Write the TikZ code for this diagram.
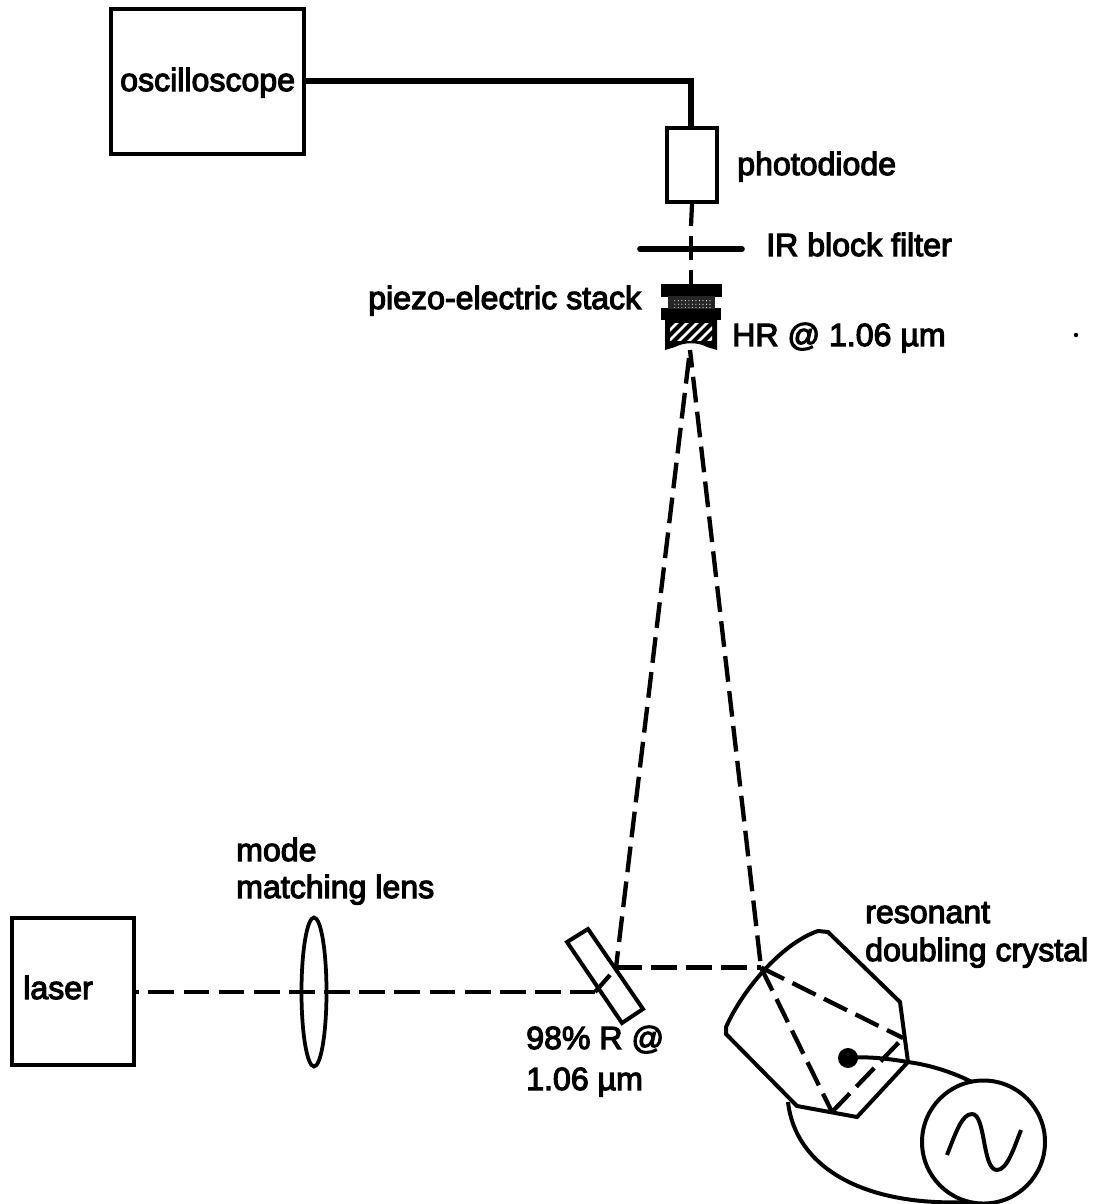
\documentclass[tikz,border=0pt]{standalone}
\usepackage{fontspec}
\setmainfont[FakeBold=3.5]{Liberation Sans}
\usetikzlibrary{patterns,shapes.geometric}
\tikzset{
 x=0.03cm,y=-0.03cm,
 ln/.style={draw=black,line width=3.4pt,line join=miter},
 thin ln/.style={draw=black,line width=3.6pt},
 beam/.style={draw=black,line width=3.7pt,dash pattern=on 22pt off 8pt},
 lab/.style={anchor=base west,inner sep=0pt,font=\fontsize{27.4}{32}\selectfont,text=black},
 box/.style={draw=black,line width=3.4pt,inner sep=0pt,fill=white},
}
\begin{document}
\begin{tikzpicture}
\useasboundingbox (0,0) rectangle (1094,1204);
% coordinates
\coordinate (top) at (691,81);
\coordinate (mirtipL) at (689,358);
\coordinate (mirtipR) at (690,350);
\coordinate (ms) at (616,967.5);
\coordinate (cin) at (761,967.5);
\coordinate (ca) at (903,1038);
\coordinate (cb) at (832,1112);
\coordinate (ddot) at (848,1058);
\coordinate (cr) at (908,1062);
\coordinate (mirin) at (595,992);
\coordinate (mirout) at (610,975);
\coordinate (fl) at (640,249);
\coordinate (fr) at (742,249);
\coordinate (wl) at (788,1102);
% boxes
\draw[box] (111,9) rectangle (304,154);
\node[lab] (osc) at (120,91) {oscilloscope};
\coordinate (oscE) at (304,81);
\draw[box] (12,918) rectangle (134,1065);
\node[lab] (las) at (23,999) {laser};
\coordinate (lasE) at (134,992);
\draw[line width=5pt] (oscE) -- (top) -- (691,130);
\node[draw=black,line width=3.4pt,minimum width=1.5cm,minimum height=2.22cm,inner sep=0pt] (pd) at (692,165) {};
\draw[thin ln] (pd.south) -- (691,226);
\draw[thin ln] (691,236) -- (691,260);
\draw[thin ln] (691,270) -- (691,286);
\draw[line width=4.8pt,line cap=round] (fl) -- (fr);
% piezo stack & mirror
\fill (661,284) rectangle (722,297);
\fill (661,308) rectangle (721,320);
\fill[black!85] (668,296) rectangle (715,309);
\fill[pattern=dots,pattern color=white] (672,298) rectangle (712,307);
\fill (665,320) -- (717,320) -- (717,350) -- (707,347) .. controls (698,342) and (684,342) .. (675,347) -- (665,350) -- cycle;
\begin{scope}
\clip (670,323) rectangle (712,340);
\foreach \i in {0,...,6} {\draw[white,line width=2.2pt] (655+\i*10,345) -- (680+\i*10,320);}
\end{scope}
% lens
\node[draw=black,line width=3.2pt,ellipse,minimum width=0.75cm,minimum height=4.47cm,inner sep=0pt] (lens) at (314,992) {};
% beams
\draw[beam,dash phase=17.7pt] (lasE) -- (mirin);
\draw[thin ln] (mirin) -- (mirout);
\draw[beam] (ms) -- (cin);
\draw[beam] (mirtipL) -- (ms);
\draw[beam,dash phase=7pt] (mirtipR) -- (cin);
\draw[beam] (cin) -- (ca);
\draw[beam] (cin) -- (cb);
\draw[beam] (cb) -- (ca);
% mirror
\draw[ln] (567,942) -- (588,929) -- (643,1009) -- (622,1023) -- cycle;
% crystal
\draw[ln] (797,1106) -- (857,1117) -- (908,1062) -- (900,1002) -- (828,932) -- (818,931)
  .. controls (785,942) and (745,985) .. (726,1027) -- (726,1034) -- (797,1106) -- cycle;
% wires
\fill (ddot) circle (10);
\draw[ln] (ddot) .. controls (868,1056) and (890,1059) .. (cr) .. controls (930,1065) and (952,1072) .. (972,1082);
\node[draw=black,line width=3.4pt,circle,minimum size=3.69cm,inner sep=0pt] (src) at (983.5,1142) {};
\draw[ln] (wl) .. controls (795,1165) and (860,1207) .. (970,1202);
\draw[ln,line join=round] (947,1155) .. controls (956,1132) and (962,1114) .. (972,1114)
  .. controls (986,1114) and (982,1170) .. (997,1170) .. controls (1007,1170) and (1014,1148) .. (1021,1130);
% speck
\fill (1076,335) circle (2.2);
% labels
\node[lab] (l1) at (737,175) {photodiode};
\node[lab] (l2) at (766,256) {IR block filter};
\node[lab] (l3) at (368,309) {piezo-electric stack};
\node[lab] (l4) at (732,346) {HR @ 1.06 µm};
\node[lab] (l5) at (236,861) {mode};
\node[lab] (l6) at (236,898) {matching lens};
\node[lab] (l7) at (526,1049) {98\% R @};
\node[lab] (l8) at (526,1090) {1.06 µm};
\node[lab] (l9) at (865,923) {resonant};
\node[lab] (l10) at (865,961) {doubling crystal};
\end{tikzpicture}
\end{document}
